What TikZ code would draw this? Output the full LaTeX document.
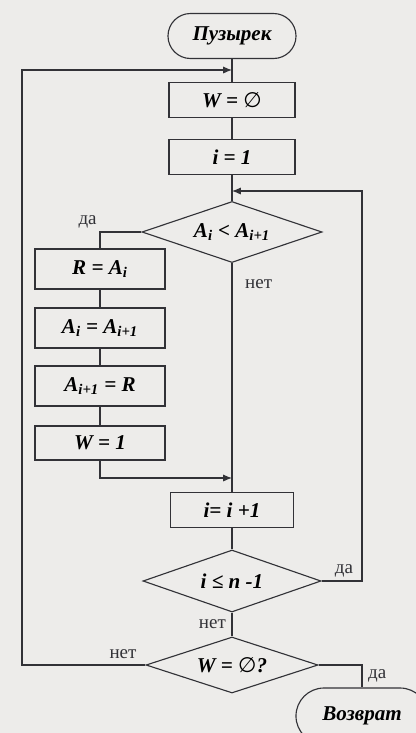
\documentclass[tikz,border=0pt]{standalone}
\usepackage{fontspec}
\setmainfont{Liberation Serif}
\newfontfamily\emptyfont{DejaVu Sans}
\usetikzlibrary{shapes.geometric, arrows.meta}
\definecolor{paper}{RGB}{237,236,234}
\definecolor{ink}{RGB}{50,50,55}
\newcommand{\nul}{{\emptyfont\mdseries\upshape ∅}}

\begin{document}
\begin{tikzpicture}[
        x=0.025cm, y=-0.025cm,
        line/.style={draw=ink, line width=0.8pt},
        arrow/.style={line, -{Latex[length=2.2mm, width=1.8mm]}},
        term/.style={rectangle, draw=ink, line width=0.8pt, font=\bfseries\itshape\fontsize{15}{17}\selectfont},
        proc/.style={rectangle, draw=ink, line width=0.8pt, minimum width=3.15cm, minimum height=0.875cm, font=\bfseries\itshape\fontsize{15}{17}\selectfont},
        swap/.style={proc, minimum width=3.25cm, minimum height=1cm},
        cond/.style={diamond, draw=ink, line width=0.8pt, inner sep=0pt, aspect=3, font=\bfseries\itshape\fontsize{15}{17}\selectfont},
        lbl/.style={font=\fontsize{13.5}{15}\selectfont, text=ink, inner sep=2pt}
    ]
        \useasboundingbox (0,0) rectangle (416,733);
        \clip (0,0) rectangle (416,733);
        \fill[paper] (0,0) rectangle (416,733);

        % main column
        \node[term, minimum width=3.2cm, minimum height=1.125cm, rounded corners=0.5625cm] (start) at (232,36) {Пузырек};
        \node[proc] (wzero) at (232,100) {W = \nul};
        \node[proc] (ione) at (232,157) {i = 1};
        \node[cond, minimum width=4.5cm, minimum height=1.525cm] (cmp) at (232,232) {A\textsubscript{i} < A\textsubscript{i+1}};
        \node[proc, minimum width=3.075cm] (inc) at (232,510) {i= i +1};
        \node[cond, minimum width=4.45cm, minimum height=1.55cm] (le) at (232,581) {i ≤ n -1};
        \node[cond, minimum width=4.3cm, minimum height=1.4cm] (wq) at (232,665) {W = \nul?};
        \node[term, minimum width=3.3cm, minimum height=1.4cm, rounded corners=0.7cm] (ret) at (362,716) {Возврат};

        % swap column
        \node[swap] (rai) at (100,269) {R = A\textsubscript{i}};
        \node[swap] (swapa) at (100,328) {A\textsubscript{i} = A\textsubscript{i+1}};
        \node[swap] (swapb) at (100,386) {A\textsubscript{i+1} = R};
        \node[swap, minimum height=0.85cm] (wone) at (100,443) {W = 1};

        % joints
        \coordinate (jtop) at (232,70);
        \coordinate (lft) at (22,70);
        \coordinate (jmid) at (232,191);
        \coordinate (rgt) at (362,191);
        \coordinate (jlow) at (232,478);

        \draw[line] (start) -- (wzero);
        \draw[line] (wzero) -- (ione);
        \draw[line] (ione) -- (cmp);
        \draw[line] (cmp.west) -| (rai.north) node[lbl, pos=0.5, above left] (yes1) {да};
        \draw[line] (rai) -- (swapa);
        \draw[line] (swapa) -- (swapb);
        \draw[line] (swapb) -- (wone);
        \draw[arrow] (wone.south) |- (jlow);
        \draw[line] (cmp.south) -- (inc.north) node[lbl, pos=0.09, right, xshift=7pt] (no1) {нет};
        \draw[line] (inc) -- (le);
        \draw[arrow] (le.east) -| (rgt) node[lbl, pos=0.5, above left, xshift=-4pt] (yes2) {да} -- (jmid);
        \draw[line] (le) -- (wq) node[lbl, midway, left, xshift=-2pt] (no2) {нет};
        \draw[line] (wq.east) -| (ret.north) node[lbl, pos=0.75, right, xshift=2pt] (yes3) {да};
        \draw[arrow] (wq.west) -| (lft) node[lbl, pos=0, above left, xshift=-4pt, yshift=2pt] (no3) {нет} -- (jtop);
    \end{tikzpicture}
\end{document}
